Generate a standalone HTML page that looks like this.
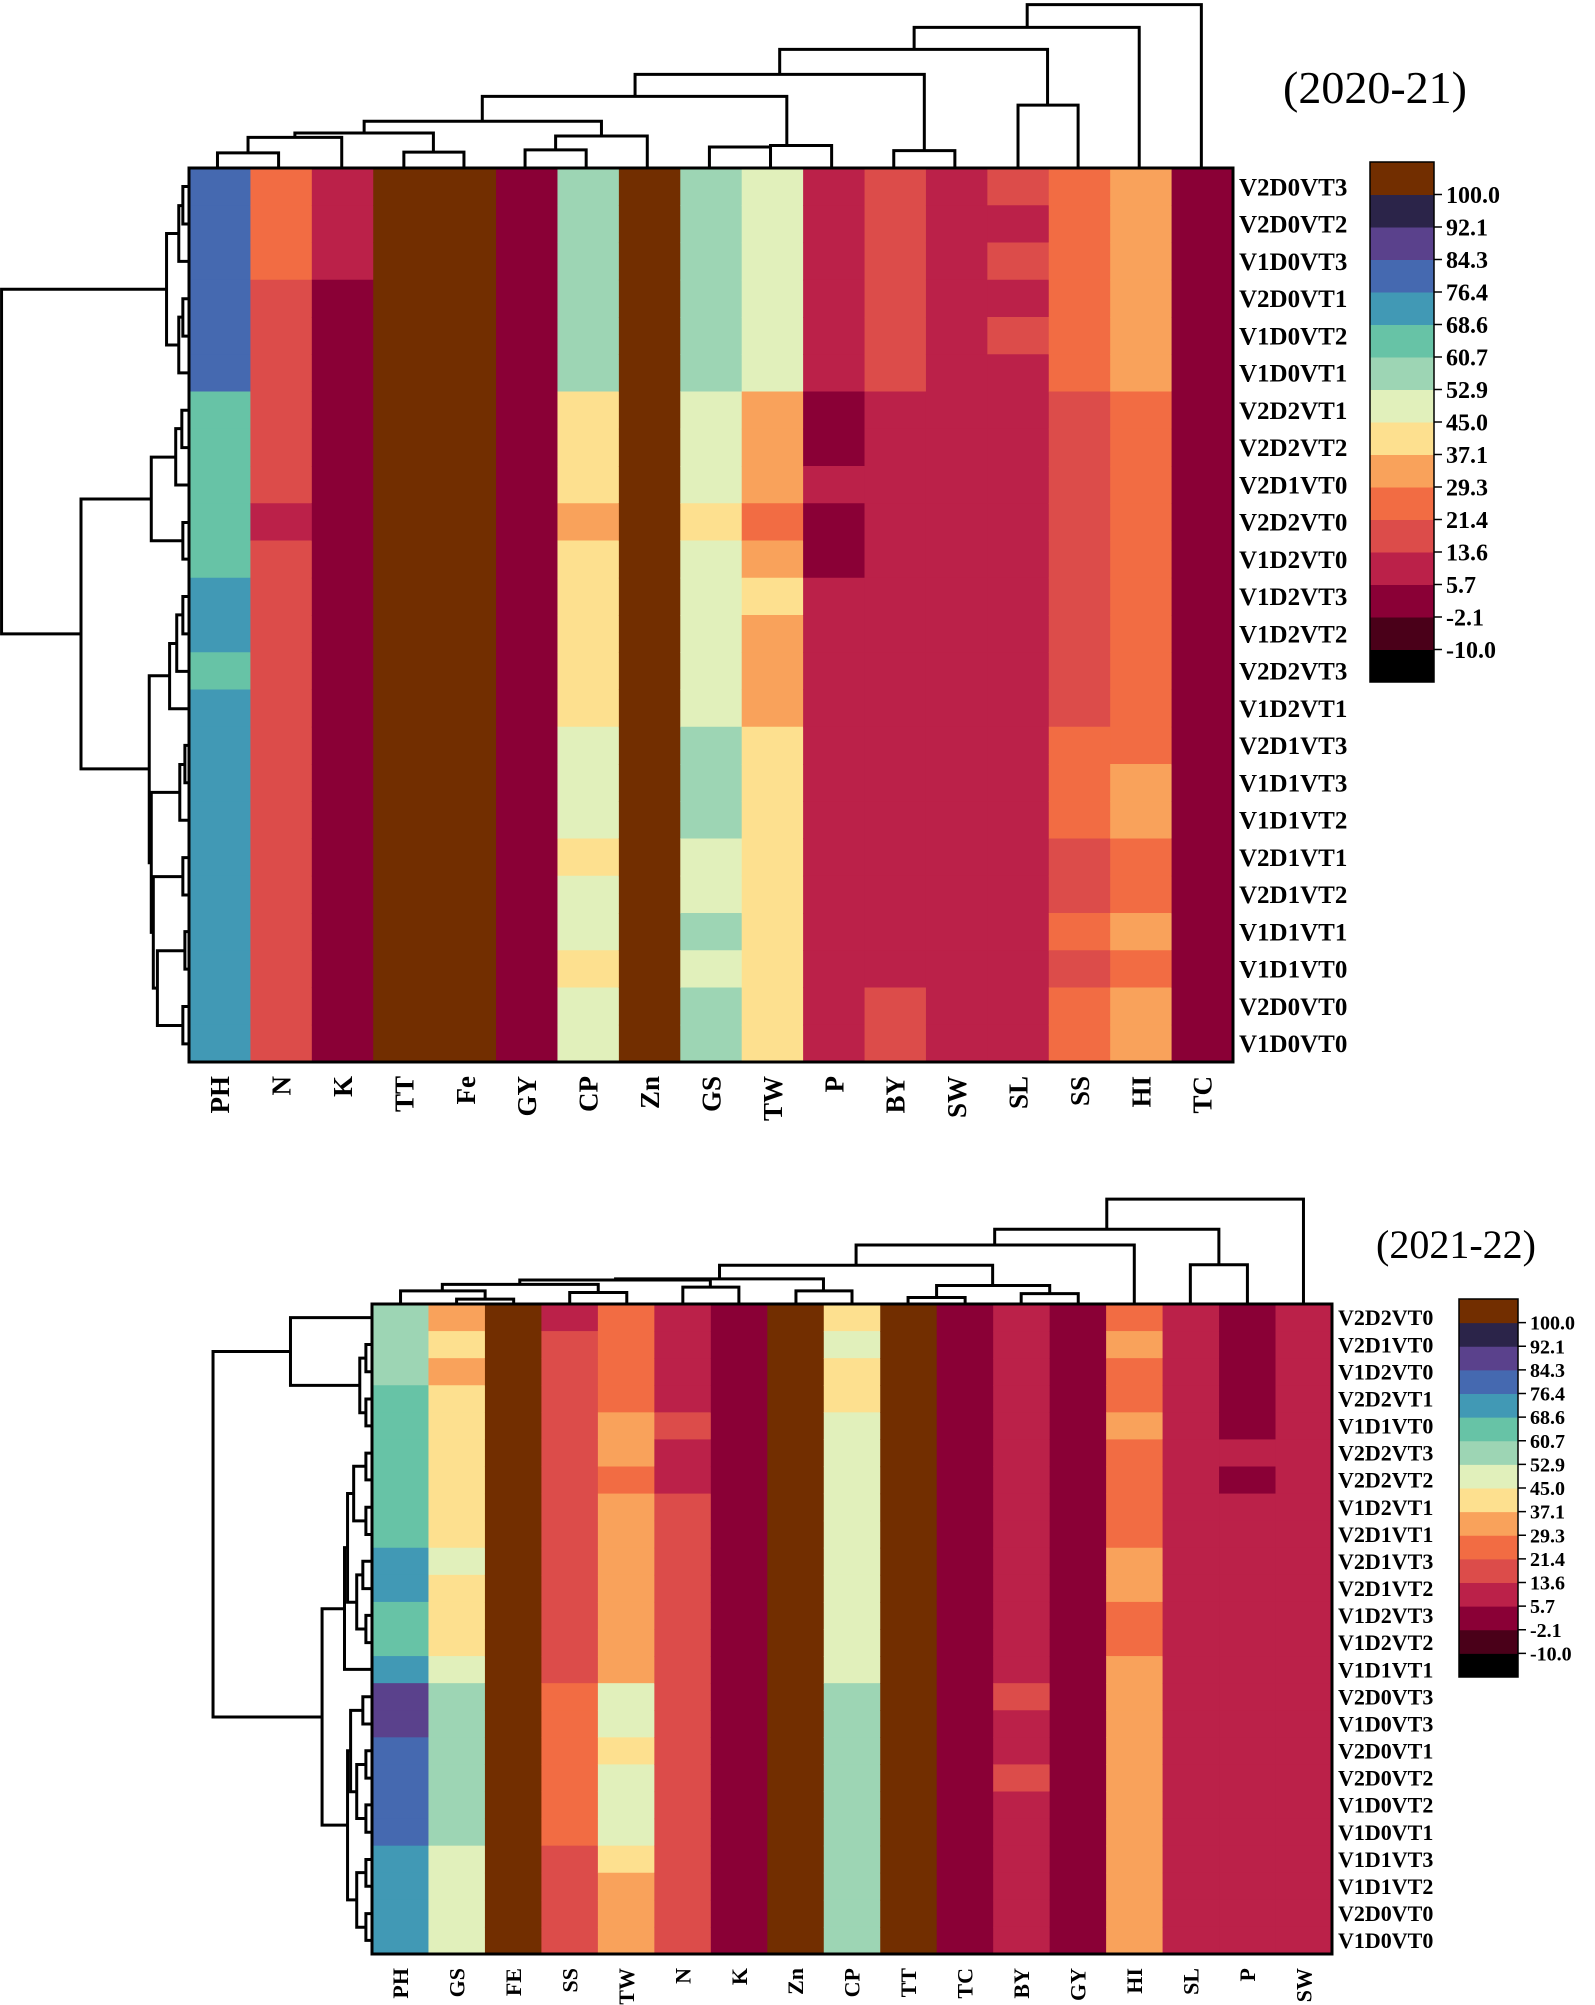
<!DOCTYPE html>
<html><head><meta charset="utf-8"><style>
html,body{margin:0;padding:0;background:#fff;}
svg{display:block;}
text{font-family:"Liberation Serif",serif;font-weight:bold;fill:#000;}
</style></head>
<body>
<svg id="chart" width="1595" height="2005" viewBox="0 0 1595 2005" xmlns="http://www.w3.org/2000/svg">
<text x="1375" y="103" font-size="46" text-anchor="middle" style="font-weight:normal">(2020-21)</text>
<text x="1456" y="1258" font-size="40" text-anchor="middle" style="font-weight:normal">(2021-22)</text>
</svg>
<script>
const binEdges = [-10,-2.1,5.7,13.6,21.4,29.3,37.1,45.0,52.9,60.7,68.6,76.4,84.3,92.1,100.0];
const tickLabels = ["-10.0","-2.1","5.7","13.6","21.4","29.3","37.1","45.0","52.9","60.7","68.6","76.4","84.3","92.1","100.0"];
const binColors = ["#000000","#4a0019","#8a0036","#bb2149","#dc4c4a","#f26c43","#f9a25b","#fde08f","#e1f0bb","#9dd5b4","#67c3a6","#4199b5","#4569b0","#5a418c","#2b2449","#722e00"];

const topRows = ["V2D0VT3","V2D0VT2","V1D0VT3","V2D0VT1","V1D0VT2","V1D0VT1","V2D2VT1","V2D2VT2","V2D1VT0","V2D2VT0","V1D2VT0","V1D2VT3","V1D2VT2","V2D2VT3","V1D2VT1","V2D1VT3","V1D1VT3","V1D1VT2","V2D1VT1","V2D1VT2","V1D1VT1","V1D1VT0","V2D0VT0","V1D0VT0"];
const topCols = ["PH","N","K","TT","Fe","GY","CP","Zn","GS","TW","P","BY","SW","SL","SS","HI","TC"];
const topValues = [
[80,80,80,80,80,80,65,65,65,65,65,72,72,65,72,72,72,72,72,72,72,72,72,72],
[25,25,25,17,17,17,17,17,17,10,17,17,17,17,17,17,17,17,17,17,17,17,17,17],
[10,10,10,2,2,2,2,2,2,2,2,2,2,2,2,2,2,2,2,2,2,2,2,2],
[105,105,105,105,105,105,105,105,105,105,105,105,105,105,105,105,105,105,105,105,105,105,105,105],
[105,105,105,105,105,105,105,105,105,105,105,105,105,105,105,105,105,105,105,105,105,105,105,105],
[2,2,2,2,2,2,2,2,2,2,2,2,2,2,2,2,2,2,2,2,2,2,2,2],
[57,57,57,57,57,57,41,41,41,33,41,41,41,41,41,49,49,49,41,49,49,41,49,49],
[105,105,105,105,105,105,105,105,105,105,105,105,105,105,105,105,105,105,105,105,105,105,105,105],
[57,57,57,57,57,57,49,49,49,41,49,49,49,49,49,57,57,57,49,49,57,49,57,57],
[49,49,49,49,49,49,33,33,33,25,33,41,33,33,33,41,41,41,41,41,41,41,41,41],
[10,10,10,10,10,10,2,2,10,2,2,10,10,10,10,10,10,10,10,10,10,10,10,10],
[17,17,17,17,17,17,10,10,10,10,10,10,10,10,10,10,10,10,10,10,10,10,17,17],
[10,10,10,10,10,10,10,10,10,10,10,10,10,10,10,10,10,10,10,10,10,10,10,10],
[17,10,17,10,17,10,10,10,10,10,10,10,10,10,10,10,10,10,10,10,10,10,10,10],
[25,25,25,25,25,25,17,17,17,17,17,17,17,17,17,25,25,25,17,17,25,17,25,25],
[33,33,33,33,33,33,25,25,25,25,25,25,25,25,25,25,33,33,25,25,33,25,33,33],
[2,2,2,2,2,2,2,2,2,2,2,2,2,2,2,2,2,2,2,2,2,2,2,2]];

const botRows = ["V2D2VT0","V2D1VT0","V1D2VT0","V2D2VT1","V1D1VT0","V2D2VT3","V2D2VT2","V1D2VT1","V2D1VT1","V2D1VT3","V2D1VT2","V1D2VT3","V1D2VT2","V1D1VT1","V2D0VT3","V1D0VT3","V2D0VT1","V2D0VT2","V1D0VT2","V1D0VT1","V1D1VT3","V1D1VT2","V2D0VT0","V1D0VT0"];
const botCols = ["PH","GS","FE","SS","TW","N","K","Zn","CP","TT","TC","BY","GY","HI","SL","P","SW"];
const botValues = [
[57,57,57,65,65,65,65,65,65,72,72,65,65,72,88,88,80,80,80,80,72,72,72,72],
[33,41,33,41,41,41,41,41,41,49,41,41,41,49,57,57,57,57,57,57,49,49,49,49],
[105,105,105,105,105,105,105,105,105,105,105,105,105,105,105,105,105,105,105,105,105,105,105,105],
[10,17,17,17,17,17,17,17,17,17,17,17,17,17,25,25,25,25,25,25,17,17,17,17],
[25,25,25,25,33,33,25,33,33,33,33,33,33,33,49,49,41,49,49,49,41,33,33,33],
[10,10,10,10,17,10,10,17,17,17,17,17,17,17,17,17,17,17,17,17,17,17,17,17],
[2,2,2,2,2,2,2,2,2,2,2,2,2,2,2,2,2,2,2,2,2,2,2,2],
[105,105,105,105,105,105,105,105,105,105,105,105,105,105,105,105,105,105,105,105,105,105,105,105],
[41,49,41,41,49,49,49,49,49,49,49,49,49,49,57,57,57,57,57,57,57,57,57,57],
[105,105,105,105,105,105,105,105,105,105,105,105,105,105,105,105,105,105,105,105,105,105,105,105],
[2,2,2,2,2,2,2,2,2,2,2,2,2,2,2,2,2,2,2,2,2,2,2,2],
[10,10,10,10,10,10,10,10,10,10,10,10,10,10,17,10,10,17,10,10,10,10,10,10],
[2,2,2,2,2,2,2,2,2,2,2,2,2,2,2,2,2,2,2,2,2,2,2,2],
[25,33,25,25,33,25,25,25,25,33,33,25,25,33,33,33,33,33,33,33,33,33,33,33],
[10,10,10,10,10,10,10,10,10,10,10,10,10,10,10,10,10,10,10,10,10,10,10,10],
[2,2,2,2,2,10,2,10,10,10,10,10,10,10,10,10,10,10,10,10,10,10,10,10],
[10,10,10,10,10,10,10,10,10,10,10,10,10,10,10,10,10,10,10,10,10,10,10,10]];

const NS = "http://www.w3.org/2000/svg";
const svg = document.getElementById("chart");
function mk(tag, attrs, parent){const e=document.createElementNS(NS,tag);for(const k in attrs)e.setAttribute(k,attrs[k]);(parent||svg).appendChild(e);return e;}
function colorOf(v){if(v<binEdges[0])return binColors[0];for(let i=1;i<binEdges.length;i++){if(v<binEdges[i])return binColors[i];}return binColors[binColors.length-1];}

function heatmap(cfg){
  const g=mk("g",{});
  
  
  const cw=(cfg.x1-cfg.x0)/cfg.cols.length, rh=(cfg.y1-cfg.y0)/cfg.rows.length;
  cfg.values.forEach((col,ci)=>{col.forEach((v,ri)=>{
    const r=mk("rect",{x:cfg.x0+ci*cw,y:cfg.y0+ri*rh,width:cw+0.6,height:rh+0.6,fill:colorOf(v)},g);
    
    
  });});
  const b=mk("rect",{x:cfg.x0,y:cfg.y0,width:cfg.x1-cfg.x0,height:cfg.y1-cfg.y0,fill:"none",stroke:"#000","stroke-width":3},g);
  
  
  cfg.rows.forEach((lab,ri)=>{
    const t=mk("text",{x:cfg.x1+6,y:cfg.y0+(ri+0.5)*rh+cfg.rfs*0.35,"font-size":cfg.rfs},g);
    t.textContent=lab;
    
    
  });
  cfg.cols.forEach((lab,ci)=>{
    const cx=cfg.x0+(ci+0.5)*cw+cfg.cfs*0.35, cy=cfg.y1+14;
    const t=mk("text",{x:cx,y:cy,"font-size":cfg.cfs,"text-anchor":"end",transform:`rotate(-90 ${cx} ${cy})`},g);
    t.textContent=lab;
    
    
  });
}
function colorbar(cfg){
  const g=mk("g",{});
  
  
  const n=binColors.length, bh=(cfg.y1-cfg.y0)/n;
  binColors.forEach((c,i)=>{
    const r=mk("rect",{x:cfg.x0,y:cfg.y1-(i+1)*bh,width:cfg.x1-cfg.x0,height:bh+0.5,fill:c},g);
    
    
  });
  mk("rect",{x:cfg.x0,y:cfg.y0,width:cfg.x1-cfg.x0,height:cfg.y1-cfg.y0,fill:"none",stroke:"#000","stroke-width":1.5},g);
  tickLabels.forEach((lab,i)=>{
    const y=cfg.y1-(i+1)*bh;
    mk("line",{x1:cfg.x1,x2:cfg.x1+8,y1:y,y2:y,stroke:"#000","stroke-width":1.5},g);
    const t=mk("text",{x:cfg.x1+12,y:y+cfg.fs*0.35,"font-size":cfg.fs},g);
    t.textContent=lab;
    
    
  });
}
function dendro(name, links, tf, horizontal){
  const g=mk("g",{transform:tf});
  
  
  let d="";
  links.forEach(L=>{
    if(horizontal){
      const [x,y1,y2,a,b]=L; d+=`M${a} ${y1}H${x}V${y2}H${b}`;
    } else {
      const [y,x1,x2,a,b]=L; d+=`M${x1} ${a}V${y}H${x2}V${b}`;
    }
  });
  mk("path",{d:d,fill:"none",stroke:"#000","stroke-width":3,"vector-effect":"non-scaling-stroke"},g);
}

heatmap({name:"heatmap-2020-21",x0:189,x1:1233,y0:168,y1:1062,rows:topRows,cols:topCols,values:topValues,rfs:25,cfs:27});
heatmap({name:"heatmap-2021-22",x0:372,x1:1332,y0:1304,y1:1954,rows:botRows,cols:botCols,values:botValues,rfs:22,cfs:22});
colorbar({name:"colorbar-2020-21",x0:1370,x1:1434,y0:162,y1:682,fs:24});
colorbar({name:"colorbar-2021-22",x0:1459,x1:1518,y0:1299,y1:1677,fs:20});

const H=228, HB=284;
dendro("column-dendrogram-2020-21",[
[207,215,275,H,H],[186,245,337,207,H],[206,398,457,H,H],[180,291,427,186,206],
[203,517,577,H,H],[184,547,637,203,H],[164,359,592,180,184],
[199,698,758,H,H],[197,758,818,199,H],[130,475,774,164,197],
[204,879,939,H,H],[100,625,909,130,204],[142,1001,1060,H,H],[66,767,1030,100,142],
[36,899,1120,66,H],[5,1010,1181,36,H]],"matrix(1.0185 0 0 0.7334 -1.5 1)",false);
dendro("row-dendrogram-2020-21",[
[181,253,304,187,187],[177,279,355,181,187],[181,406,457,187,187],[177,431,507,181,187],[165,317,469,177,177],
[180,558,609,187,187],[174,583,660,180,187],[181,711,761,187,187],[150,622,736,174,181],
[181,812,863,187,187],[175,837,914,181,187],[168,876,965,175,187],
[183,1015,1066,187,187],[178,1041,1117,183,187],[181,1168,1219,187,187],[183,1269,1320,187,187],[181,1371,1422,187,187],
[156,1295,1397,183,181],[152,1194,1346,181,156],[150,1079,1270,178,152],[148,920,1175,168,150],
[81,679,1047,150,148],[3,393,863,165,81]],"matrix(1.0185 0 0 0.7334 -1.5 1)",true);
dendro("column-dendrogram-2021-22",[
[275,450,506,HB,HB],[260,395,478,HB,275],[263,561,617,HB,HB],[248,436,589,260,263],
[253,672,727,HB,HB],[240,512,699,248,253],[260,783,838,HB,HB],[238,606,810,240,260],
[272,893,949,HB,HB],[265,1004,1060,HB,HB],[250,921,1032,272,265],[213,708,976,238,250],
[176,842,1115,213,HB],[212,1170,1226,HB,HB],[147,978,1198,176,212],[92,1088,1281,147,HB]],
"matrix(1.0191 0 0 0.5462 -2 1148.9)",false);
dendro("row-dendrogram-2021-22",[
[361,358,408,367,367],[361,458,507,367,367],[355,383,483,361,361],[287,309,433,367,355],
[361,557,606,367,367],[361,656,706,367,367],[349,581,681,361,361],[358,755,805,367,367],[361,854,904,367,367],
[352,780,879,358,361],[343,631,830,349,352],[340,730,953,343,367],
[358,1003,1053,367,367],[361,1102,1152,367,367],[361,1201,1251,367,367],[352,1127,1226,361,361],[346,1028,1177,358,352],
[361,1301,1350,367,367],[361,1400,1449,367,367],[352,1325,1425,361,361],[343,1102,1375,346,352],
[318,842,1238,340,343],[211,371,1040,287,318]],"matrix(1.0191 0 0 0.5462 -2 1148.9)",true);
</script>
</body></html>
